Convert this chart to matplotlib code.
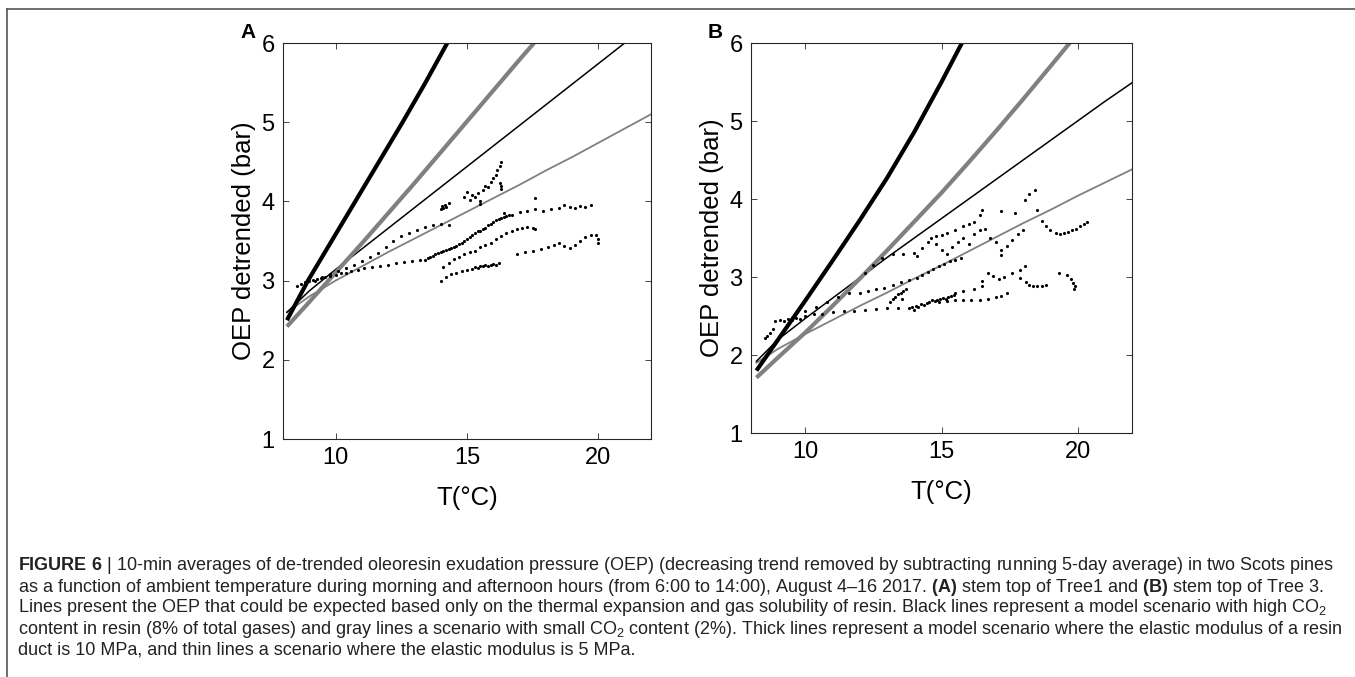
import numpy as np
import matplotlib.pyplot as plt
from matplotlib.lines import Line2D

plt.rcParams['font.family'] = ['Liberation Sans', 'DejaVu Sans']
plt.rcParams['mathtext.fontset'] = 'custom'
plt.rcParams['mathtext.rm'] = 'Liberation Sans'
plt.rcParams['mathtext.bf'] = 'Liberation Sans:bold'

# model curves, panel A (x = T, y = OEP)
a_thick_black_x = [8.15, 8.95, 9.85, 10.75, 11.65, 12.55, 13.42, 14.25]
a_thick_black_y = [2.5, 3.0, 3.5, 4.0, 4.5, 5.0, 5.5, 6.0]
a_thick_gray_x = [8.15, 9, 10, 11, 12, 13, 14, 15, 16, 17, 17.55]
a_thick_gray_y = [2.42, 2.73, 3.1, 3.47, 3.85, 4.23, 4.62, 5.01, 5.4, 5.79, 6.0]
a_thin_black_x = [8.15, 9, 10, 11, 12, 13, 14, 15, 16, 17, 18, 19, 20, 21]
a_thin_black_y = [2.6, 2.87, 3.14, 3.4, 3.66, 3.92, 4.18, 4.44, 4.7, 4.96, 5.22, 5.48, 5.74, 6.0]
a_thin_gray_x = [8.15, 9, 10, 11, 12, 13, 14, 15, 16, 17, 18, 19, 20, 21, 22]
a_thin_gray_y = [2.6, 2.8, 3.0, 3.18, 3.36, 3.53, 3.7, 3.87, 4.04, 4.21, 4.39, 4.56, 4.74, 4.92, 5.1]

# model curves, panel B
b_thick_black_x = [8.2, 9, 10, 11, 12, 13, 14, 15, 15.75]
b_thick_black_y = [1.8, 2.2, 2.7, 3.21, 3.73, 4.27, 4.86, 5.5, 6.0]
b_thick_gray_x = [8.2, 9, 10, 11, 12, 13, 14, 15, 16, 17, 18, 19, 19.71]
b_thick_gray_y = [1.71, 1.97, 2.29, 2.63, 2.98, 3.34, 3.71, 4.08, 4.47, 4.87, 5.28, 5.7, 6.0]
b_thin_black_x = [8.2, 9, 10, 11, 12, 13, 14, 15, 16, 17, 18, 19, 20, 21, 22]
b_thin_black_y = [1.92, 2.2, 2.47, 2.73, 2.99, 3.25, 3.5, 3.75, 4.0, 4.25, 4.5, 4.75, 5.0, 5.25, 5.49]
b_thin_gray_x = [8.2, 9, 10, 11, 12, 13, 14, 15, 16, 17, 18, 19, 20, 21, 22]
b_thin_gray_y = [1.9, 2.08, 2.27, 2.45, 2.63, 2.8, 2.98, 3.15, 3.33, 3.51, 3.69, 3.86, 4.04, 4.21, 4.38]

# measured 10-min averages, panel A
a_pts_x = [8.55, 8.7, 8.85, 9.0, 9.15, 9.3, 9.45, 9.6, 9.8, 10.0, 10.2, 10.4, 10.6, 10.85, 11.1, 11.4, 11.7, 12.0, 12.3, 12.6, 12.9, 13.2,
           9.2, 9.5, 9.8, 10.1, 10.4, 10.7, 11.0, 11.3, 11.6, 11.9, 12.2, 12.5, 12.8, 13.1, 13.4, 13.7, 14.0, 14.3,
           13.4, 13.5, 13.6, 13.7, 13.8, 13.9, 14.0, 14.1, 14.2, 14.3, 14.4, 14.5, 14.6, 14.7, 14.8, 14.9, 15.0, 15.1, 15.2, 15.3, 15.4, 15.5, 15.6, 15.7, 15.8, 15.9, 16.0, 16.1, 16.2, 16.3, 16.4, 16.5, 16.6,
           14.0, 14.05, 14.1, 14.15, 14.2, 14.3, 14.9, 15.0, 15.1, 15.2, 15.3, 15.4, 15.5, 15.5, 15.6, 15.7, 15.8, 15.9, 16.0, 16.1, 16.15, 16.25, 16.3, 16.3, 16.3, 16.25,
           16.4, 16.7, 17.0, 17.3, 17.6, 17.9, 18.2, 18.5, 18.7, 18.9, 19.1, 19.3, 19.5, 19.7, 17.6,
           16.9, 17.2, 17.5, 17.8, 18.1, 18.3, 18.5, 18.7, 18.9, 19.1, 19.3, 19.5, 19.7, 19.9, 20.0, 20.0,
           14.0, 14.2, 14.4, 14.6, 14.8, 15.0, 15.2, 15.3, 15.4, 15.5, 15.6, 15.7, 15.8, 15.9, 16.0, 16.1, 16.2,
           14.1, 14.3, 14.5, 14.7, 14.9, 15.1, 15.3, 15.5, 15.7, 15.9, 16.1, 16.3, 16.5, 16.7, 16.9, 17.1, 17.3, 17.5, 17.6]
a_pts_y = [2.93, 2.96, 2.98, 3.0, 3.01, 3.02, 3.03, 3.05, 3.06, 3.07, 3.09, 3.1, 3.12, 3.14, 3.16, 3.17, 3.18, 3.2, 3.22, 3.23, 3.25, 3.26,
           3.0, 3.04, 3.08, 3.12, 3.16, 3.2, 3.25, 3.3, 3.35, 3.42, 3.5, 3.56, 3.6, 3.64, 3.68, 3.7, 3.72, 3.7,
           3.26, 3.28, 3.3, 3.31, 3.33, 3.35, 3.36, 3.37, 3.39, 3.4, 3.41, 3.42, 3.44, 3.46, 3.48, 3.5, 3.52, 3.55, 3.57, 3.6, 3.62, 3.63, 3.65, 3.67, 3.7, 3.72, 3.74, 3.76, 3.78, 3.79, 3.8, 3.82, 3.83,
           3.9, 3.94, 3.92, 3.96, 3.93, 3.98, 4.05, 4.12, 4.02, 4.08, 4.05, 4.1, 3.97, 4.0, 4.15, 4.2, 4.18, 4.25, 4.3, 4.33, 4.4, 4.45, 4.5, 4.2, 4.16, 4.23,
           3.85, 3.83, 3.86, 3.88, 3.9, 3.88, 3.9, 3.92, 3.95, 3.93, 3.92, 3.94, 3.93, 3.95, 4.04,
           3.33, 3.36, 3.38, 3.4, 3.43, 3.45, 3.47, 3.44, 3.41, 3.45, 3.5, 3.55, 3.58, 3.57, 3.52, 3.48,
           3.0, 3.05, 3.08, 3.1, 3.12, 3.14, 3.15, 3.17, 3.16, 3.18, 3.19, 3.2, 3.18, 3.2, 3.21, 3.2, 3.22,
           3.17, 3.22, 3.27, 3.3, 3.33, 3.36, 3.38, 3.42, 3.45, 3.48, 3.52, 3.56, 3.6, 3.62, 3.65, 3.66, 3.68, 3.67, 3.65]

# measured 10-min averages, panel B
b_pts_x = [8.5, 8.6, 8.7, 8.8, 8.9, 9.05, 9.2, 9.35, 9.5, 9.65, 9.8, 10.0, 10.3, 10.6, 11.0, 11.4, 11.8, 12.2, 12.6, 13.0, 13.4,
           13.8, 13.9, 14.0, 14.05, 14.15, 14.25, 14.35, 14.45, 14.55, 14.65, 14.75, 14.85, 14.95, 15.05, 15.15, 15.25, 15.35, 15.45,
           10.0, 10.4, 10.8, 11.2, 11.6, 12.0, 12.3, 12.6, 12.9, 13.2, 13.5, 13.8, 14.1, 14.3, 14.5, 14.7, 14.9, 15.1, 15.3, 15.5, 15.7,
           13.1, 13.2, 13.3, 13.4, 13.5, 13.6, 13.7, 13.55,
           12.2, 12.5, 12.8, 13.2, 13.6, 14.0, 14.1, 14.3, 14.5, 14.6, 14.8, 15.0, 15.2, 15.5, 15.8, 16.0, 16.2, 16.4, 16.5,
           14.8, 15.0, 15.2, 15.4, 15.6, 15.8, 16.0, 16.2, 16.4, 16.6, 16.8, 17.0, 17.2, 17.2, 17.4, 17.6, 17.8, 18.0, 17.2, 17.7,
           18.05, 18.2, 18.45, 18.5, 18.7, 18.85, 19.0, 19.2, 19.35, 19.5, 19.65, 19.8, 19.95, 20.1, 20.25, 20.35,
           16.5, 16.7, 16.9, 17.1, 17.3, 17.6, 17.9, 18.05, 17.9, 18.1, 18.2, 18.35, 18.5, 18.7, 18.85, 19.3, 19.6, 19.75, 19.85, 19.9, 19.88,
           14.9, 15.2, 15.5, 15.8, 16.1, 16.4, 16.7, 17.0, 17.2, 17.4, 15.5, 15.8, 16.2, 16.5]
b_pts_y = [2.22, 2.25, 2.28, 2.33, 2.44, 2.45, 2.44, 2.46, 2.45, 2.47, 2.46, 2.5, 2.52, 2.53, 2.55, 2.56, 2.57, 2.58, 2.59, 2.6, 2.6,
           2.6, 2.62, 2.58, 2.63, 2.62, 2.65, 2.64, 2.67, 2.68, 2.7, 2.69, 2.71, 2.72, 2.73, 2.72, 2.75, 2.76, 2.77,
           2.56, 2.62, 2.68, 2.74, 2.79, 2.8, 2.82, 2.84, 2.86, 2.9, 2.93, 2.96, 2.99, 3.02, 3.06, 3.1, 3.14, 3.17, 3.2, 3.22, 3.25,
           2.68, 2.72, 2.75, 2.78, 2.8, 2.82, 2.85, 2.72,
           3.05, 3.15, 3.24, 3.3, 3.29, 3.31, 3.27, 3.37, 3.45, 3.5, 3.52, 3.54, 3.56, 3.6, 3.65, 3.68, 3.71, 3.8, 3.86,
           3.42, 3.35, 3.3, 3.38, 3.45, 3.5, 3.42, 3.55, 3.6, 3.62, 3.5, 3.45, 3.35, 3.28, 3.4, 3.48, 3.55, 3.6, 3.84, 3.82,
           3.99, 4.06, 4.12, 3.86, 3.72, 3.65, 3.6, 3.56, 3.55, 3.57, 3.58, 3.6, 3.62, 3.65, 3.68, 3.71,
           2.95, 3.05, 3.01, 2.98, 3.0, 3.05, 3.09, 3.14, 2.99, 2.93, 2.9, 2.88, 2.88, 2.89, 2.9, 3.05, 3.03, 2.97, 2.92, 2.88, 2.85,
           2.68, 2.69, 2.7, 2.7, 2.7, 2.71, 2.72, 2.74, 2.76, 2.79, 2.8, 2.82, 2.84, 2.88]

caption_lines = [
    r"$\mathbf{FIGURE\ 6}$ | 10-min averages of de-trended oleoresin exudation pressure (OEP) (decreasing trend removed by subtracting running 5-day average) in two Scots pines",
    r"as a function of ambient temperature during morning and afternoon hours (from 6:00 to 14:00), August 4–16 2017. $\mathbf{(A)}$ stem top of Tree1 and $\mathbf{(B)}$ stem top of Tree 3.",
    r"Lines present the OEP that could be expected based only on the thermal expansion and gas solubility of resin. Black lines represent a model scenario with high CO$_2$",
    r"content in resin (8% of total gases) and gray lines a scenario with small CO$_2$ content (2%). Thick lines represent a model scenario where the elastic modulus of a resin",
    r"duct is 10 MPa, and thin lines a scenario where the elastic modulus is 5 MPa.",
]

W, H = 1355, 677
fig = plt.figure(figsize=(W / 100, H / 100), dpi=100)

panels = [
    ('A', [283, 43, 651, 439],
     (a_thin_gray_x, a_thin_gray_y), (a_thin_black_x, a_thin_black_y),
     (a_thick_gray_x, a_thick_gray_y), (a_thick_black_x, a_thick_black_y),
     a_pts_x, a_pts_y),
    ('B', [751, 43, 1132, 433],
     (b_thin_gray_x, b_thin_gray_y), (b_thin_black_x, b_thin_black_y),
     (b_thick_gray_x, b_thick_gray_y), (b_thick_black_x, b_thick_black_y),
     b_pts_x, b_pts_y),
]

for label, box, tg, tb, kg, kb, px, py in panels:
    x0, y0, x1, y1 = box
    ax = fig.add_axes([x0 / W, 1 - y1 / H, (x1 - x0) / W, (y1 - y0) / H])
    ax.plot(tg[0], tg[1], color='#808080', lw=1.3)
    ax.plot(tb[0], tb[1], color='black', lw=1.1)
    ax.plot(kg[0], kg[1], color='#808080', lw=3.0, solid_capstyle='butt')
    ax.plot(kb[0], kb[1], color='black', lw=3.0, solid_capstyle='butt')
    ax.plot(px, py, 'k.', ms=4.5, mew=0)
    ax.set_xlim(8, 22)
    ax.set_ylim(1, 6)
    ax.set_xticks([10, 15, 20])
    ax.set_yticks([1, 2, 3, 4, 5, 6])
    ax.tick_params(direction='in', length=4, width=0.6, top=True, right=True,
                   labelsize=17, pad=6, color='#262626')
    for s in ax.spines.values():
        s.set_linewidth(0.8)
        s.set_color('#262626')
    ax.set_xlabel('T(°C)', fontsize=18.5, labelpad=12)
    ax.set_ylabel('OEP detrended (bar)', fontsize=18.5, labelpad=4)
    fig.text((x0 - 43) / W, 1 - 33 / H, label, fontsize=15, fontweight='bold',
             ha='left', va='center')

# frame of the figure box
fig.add_artist(Line2D([7 / W, 1], [1 - 8.5 / H, 1 - 8.5 / H], color='#555555', lw=1.2))
fig.add_artist(Line2D([7 / W, 7 / W], [0, 1 - 8.5 / H], color='#555555', lw=1.2))

# caption, sized so that the first line fills the text width
caption_y = [566, 587, 608, 629, 650]
texts = [fig.text(18 / W, 1 - y / H, s, fontsize=10, va='center', ha='left', color='#222222')
         for s, y in zip(caption_lines, caption_y)]
fig.canvas.draw()
w0 = texts[0].get_window_extent().width
for t in texts:
    t.set_fontsize(10 * 1317 / w0)

fig.savefig('out.png', dpi=100)
